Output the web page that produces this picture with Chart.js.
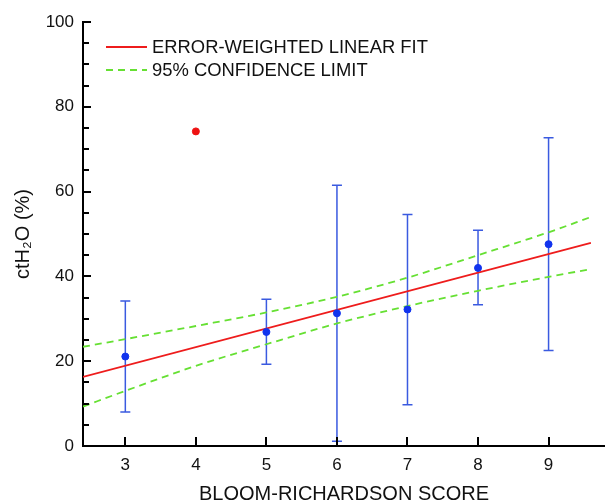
<!DOCTYPE html>
<html>
<head>
<meta charset="utf-8">
<title>ctH2O vs Bloom-Richardson score</title>
<script src="https://cdn.jsdelivr.net/npm/chart.js@4.4.0/dist/chart.umd.min.js"></script>
<style>
    html, body { margin: 0; padding: 0; background: #fff; }
    #wrap { width: 605px; height: 504px; position: relative; }
</style>
</head>
<body>
<div id="wrap"><canvas id="fitChart"></canvas></div>
<script>
// ---- data ----
const scores = [3, 5, 6, 7, 8, 9];
const meanH2O = [21.1, 26.9, 31.3, 32.2, 42.0, 47.6];
const errUpper = [34.2, 34.6, 61.5, 54.6, 50.9, 72.7];
const errLower = [8.0, 19.3, 1.1, 9.7, 33.3, 22.5];

const outlierScore = [4];
const outlierH2O = [74.2];

const fitX = [2.4, 9.6];
const fitY = [16.3, 47.9];

const bandX = [2.4, 3, 4, 5, 6, 7, 8, 9, 9.6];
const bandUpper = [23.4, 25.2, 28.3, 31.5, 35.2, 39.7, 45.0, 50.4, 54.0];
const bandLower = [9.3, 13.0, 18.9, 24.0, 28.9, 33.0, 36.6, 39.9, 41.7];

const xTicks = [3, 4, 5, 6, 7, 8, 9];
const yTicks = [0, 20, 40, 60, 80, 100];
const yMinorStep = 5;

const legendItems = ['ERROR-WEIGHTED LINEAR FIT', '95% CONFIDENCE LIMIT'];

const colors = {
    points: '#1133ee',
    outlier: '#ee1111',
    errBar: '#3a5ae0',
    fit: '#ee1c1c',
    band: '#66e033',
    axis: '#000000',
    text: '#111111'
};

const FONT = "'Liberation Sans', Arial, sans-serif";

const zip = (xs, ys) => xs.map((x, i) => ({ x: x, y: ys[i] }));

// error bars under the markers
const errorBarPlugin = {
    id: 'errorBars',
    beforeDatasetsDraw(chart) {
        const { ctx, scales: { x, y } } = chart;
        ctx.save();
        ctx.strokeStyle = colors.errBar;
        ctx.lineWidth = 1.5;
        scores.forEach((s, i) => {
            const px = x.getPixelForValue(s);
            const top = y.getPixelForValue(errUpper[i]);
            const bot = y.getPixelForValue(errLower[i]);
            ctx.beginPath();
            ctx.moveTo(px, top); ctx.lineTo(px, bot);
            ctx.moveTo(px - 5, top); ctx.lineTo(px + 5, top);
            ctx.moveTo(px - 5, bot); ctx.lineTo(px + 5, bot);
            ctx.stroke();
        });
        ctx.restore();
    }
};

// inward tick marks, like the original plot
const innerTicksPlugin = {
    id: 'innerTicks',
    afterDraw(chart) {
        const { ctx, chartArea, scales: { x, y } } = chart;
        ctx.save();
        ctx.strokeStyle = colors.axis;
        ctx.lineWidth = 2;
        ctx.beginPath();
        xTicks.forEach(v => {
            const px = Math.round(x.getPixelForValue(v));
            ctx.moveTo(px, chartArea.bottom);
            ctx.lineTo(px, chartArea.bottom - 9);
        });
        for (let v = y.min; v <= y.max; v += yMinorStep) {
            const py = Math.round(y.getPixelForValue(v));
            const len = yTicks.includes(v) ? 8 : 6;
            ctx.moveTo(chartArea.left, py);
            ctx.lineTo(chartArea.left + len, py);
        }
        ctx.stroke();
        ctx.restore();
    }
};

// legend drawn inside the plot area, top left
const insideLegendPlugin = {
    id: 'insideLegend',
    afterDatasetsDraw(chart) {
        const { ctx, chartArea } = chart;
        const x0 = chartArea.left + 23;
        const rows = [
            { y: chartArea.top + 25, color: colors.fit, dash: [] },
            { y: chartArea.top + 48, color: colors.band, dash: [7, 5] }
        ];
        ctx.save();
        ctx.font = '18.4px ' + FONT;
        ctx.textBaseline = 'middle';
        ctx.fillStyle = colors.text;
        rows.forEach((r, i) => {
            ctx.strokeStyle = r.color;
            ctx.lineWidth = 1.8;
            ctx.setLineDash(r.dash);
            ctx.beginPath();
            ctx.moveTo(x0, r.y);
            ctx.lineTo(x0 + 41, r.y);
            ctx.stroke();
            ctx.setLineDash([]);
            ctx.fillText(legendItems[i], x0 + 46, r.y + 1);
        });
        ctx.restore();
    }
};

new Chart(document.getElementById('fitChart'), {
    type: 'scatter',
    data: {
        datasets: [
            {
                label: 'Mean',
                data: zip(scores, meanH2O),
                backgroundColor: colors.points,
                borderColor: colors.points,
                pointRadius: 3.5,
                showLine: false
            },
            {
                label: 'Outlier',
                data: zip(outlierScore, outlierH2O),
                backgroundColor: colors.outlier,
                borderColor: colors.outlier,
                pointRadius: 3.5,
                showLine: false
            },
            {
                label: legendItems[0],
                data: zip(fitX, fitY),
                borderColor: colors.fit,
                borderWidth: 1.8,
                pointRadius: 0,
                showLine: true
            },
            {
                label: 'Upper',
                data: zip(bandX, bandUpper),
                borderColor: colors.band,
                borderWidth: 1.8,
                borderDash: [7, 5],
                pointRadius: 0,
                showLine: true,
                cubicInterpolationMode: 'monotone'
            },
            {
                label: 'Lower',
                data: zip(bandX, bandLower),
                borderColor: colors.band,
                borderWidth: 1.8,
                borderDash: [7, 5],
                pointRadius: 0,
                showLine: true,
                cubicInterpolationMode: 'monotone'
            }
        ]
    },
    options: {
        responsive: true,
        maintainAspectRatio: false,
        animation: false,
        layout: {
            autoPadding: false,
            padding: { top: 22, right: 0, left: 0, bottom: 0 }
        },
        plugins: {
            legend: { display: false },
            tooltip: { enabled: false }
        },
        scales: {
            x: {
                type: 'linear',
                min: 2.4,
                max: 9.8,
                afterBuildTicks: (scale) => { scale.ticks = xTicks.map(v => ({ value: v })); },
                afterFit: (scale) => {
                    scale.height = 58;
                    scale.paddingLeft = 0;
                    scale.paddingRight = 0;
                },
                grid: { display: false, drawTicks: false },
                border: { display: true, color: colors.axis, width: 2 },
                ticks: {
                    padding: 9,
                    color: colors.text,
                    font: { family: FONT, size: 17 }
                },
                title: {
                    display: true,
                    text: 'BLOOM-RICHARDSON SCORE',
                    color: colors.text,
                    font: { family: FONT, size: 20, lineHeight: 1.0 },
                    padding: { top: 0, bottom: 0 }
                }
            },
            y: {
                min: 0,
                max: 100,
                afterBuildTicks: (scale) => { scale.ticks = yTicks.map(v => ({ value: v })); },
                afterFit: (scale) => { scale.width = 83; },
                grid: { display: false, drawTicks: false },
                border: { display: true, color: colors.axis, width: 2 },
                ticks: {
                    padding: 9,
                    color: colors.text,
                    font: { family: FONT, size: 17 }
                },
                title: {
                    display: true,
                    text: 'ctH₂O (%)',
                    color: colors.text,
                    font: { family: FONT, size: 20 },
                    padding: { top: 11, bottom: 0 }
                }
            }
        }
    },
    plugins: [errorBarPlugin, innerTicksPlugin, insideLegendPlugin]
});
</script>
</body>
</html>
